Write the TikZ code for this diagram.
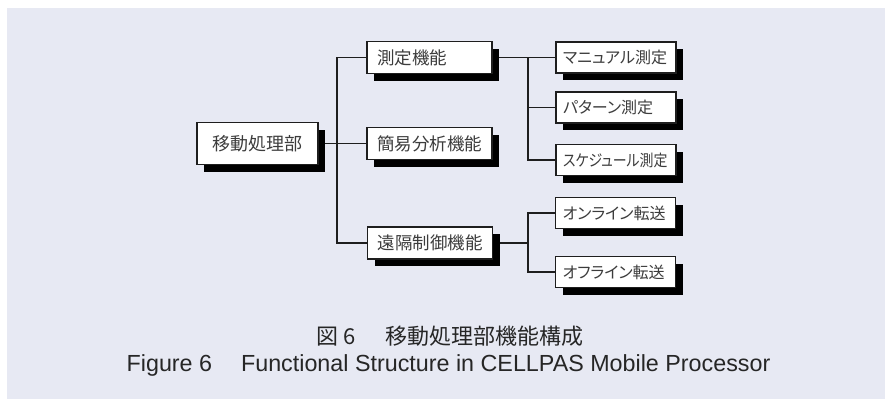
\documentclass[tikz,border=0pt]{standalone}
\usepackage{fontspec}
\setmainfont{Liberation Sans}
\newfontfamily\cjk{Noto Sans CJK JP}
\newfontfamily\cjkp[RawFeature=+palt]{Noto Sans CJK JP}
\usetikzlibrary{shadows}
\pgfdeclarelayer{bglayer}
\pgfdeclarelayer{linelayer}
\pgfsetlayers{bglayer,linelayer,main}
\definecolor{bgc}{HTML}{E7E9F3}
\definecolor{txt}{HTML}{3C3C3C}
\definecolor{captxt}{HTML}{262626}
\definecolor{ln}{HTML}{1E1E1E}
\begin{document}
\begin{tikzpicture}[x=1pt,y=-1pt,
  box/.style={draw=ln, line width=1.4pt, fill=white, inner sep=0pt, text=txt,
    drop shadow={shadow xshift=7pt,shadow yshift=-7pt,fill=black,opacity=1}},
  rootbox/.style={box, minimum width=121pt, minimum height=42pt,
    font=\cjk\fontsize{18}{20}\selectfont},
  midbox/.style={box, minimum width=125pt, minimum height=32pt,
    text width=105pt, align=left, font=\cjk\fontsize{17.5}{20}\selectfont},
  childbox/.style={box, minimum width=120pt, minimum height=31pt,
    text width=106pt, align=left, font=\cjkp\fontsize{16}{18}\selectfont},
  conn/.style={draw=ln, line width=1.3pt}]
\useasboundingbox (0,0) rectangle (885,399);
\begin{pgfonlayer}{bglayer}
  \fill[white] (0,0) rectangle (885,399);
  \fill[bgc] (7,8) rectangle (885,399);
\end{pgfonlayer}

\node[rootbox] (root) at (257.5,143.5) {移動処理部};
\node[midbox] (A) at (429.5,57.5) {測定機能};
\node[midbox] (B) at (429.5,143.5) {簡易分析機能};
\node[midbox] (C) at (430,243) {遠隔制御機能};
\node[childbox] (A1) at (616,57.5) {マニュアル測定};
\node[childbox] (A2) at (616,107.5) {パターン測定};
\node[childbox] (A3) at (616,160) {\scalebox{0.87}[1]{スケジュール測定}};
\node[childbox] (C1) at (615.5,213) {オンライン転送};
\node[childbox] (C2) at (615.5,272) {オフライン転送};

\coordinate (j0) at (337,143.5);
\coordinate (j1) at (528,57.5);
\coordinate (j2) at (528,243);

\begin{pgfonlayer}{linelayer}
  \draw[conn] (root.east) -- (B.west);
  \draw[conn] (A.west) -| (j0);
  \draw[conn] (C.west) -| (j0);
  \draw[conn] (A.east) -- (A1.west);
  \draw[conn] (A2.west) -| (j1);
  \draw[conn] (A3.west) -| (j1);
  \draw[conn] (C.east) -- (j2);
  \draw[conn] (C1.west) -| (j2);
  \draw[conn] (C2.west) -| (j2);
\end{pgfonlayer}

\node[text=captxt, inner sep=0pt, font=\cjk\fontsize{22}{24}\selectfont] (cap1) at (450,336) {図\hspace{5pt}6\hspace{30pt}移動処理部機能構成};
\node[text=captxt, inner sep=0pt, anchor=base, font=\fontsize{23.3}{26}\selectfont] (cap2) at (448.5,371) {Figure 6\hspace{29pt}Functional Structure in CELLPAS Mobile Processor};
\end{tikzpicture}
\end{document}
